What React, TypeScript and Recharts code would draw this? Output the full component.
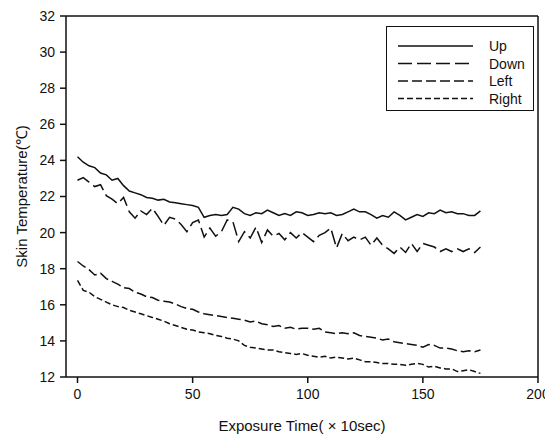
import { LineChart, Line, XAxis, YAxis, ReferenceLine } from "recharts";

const times = [
  0, 2.5, 5, 7.5, 10, 12.5, 15, 17.5, 20, 22.5, 25, 27.5, 30, 32.5, 35, 37.5, 40, 42.5, 45, 47.5,
  50, 52.5, 55, 57.5, 60, 62.5, 65, 67.5, 70, 72.5, 75, 77.5, 80, 82.5, 85, 87.5, 90, 92.5, 95, 97.5,
  100, 102.5, 105, 107.5, 110, 112.5, 115, 117.5, 120, 122.5, 125, 127.5, 130, 132.5, 135, 137.5,
  140, 142.5, 145, 147.5, 150, 152.5, 155, 157.5, 160, 162.5, 165, 167.5, 170, 172.5, 175,
];

const up = [
  24.2, 23.9, 23.7, 23.6, 23.3, 23.2, 22.9, 23.0, 22.6, 22.3, 22.2, 22.1, 21.95, 21.9, 21.8, 21.85,
  21.7, 21.65, 21.6, 21.55, 21.5, 21.4, 20.85, 20.95, 21.0, 20.95, 21.0, 21.4, 21.3, 21.05, 20.95,
  21.1, 21.05, 21.25, 21.1, 20.95, 21.05, 20.95, 21.15, 21.1, 20.95, 21.0, 21.1, 21.05, 21.1, 20.95,
  21.0, 21.15, 21.3, 21.15, 21.15, 21.0, 20.8, 20.95, 20.85, 21.15, 20.95, 20.7, 20.85, 21.0, 20.9,
  21.1, 21.05, 21.25, 21.1, 21.15, 21.05, 21.05, 20.95, 20.95, 21.2,
];

const down = [
  22.9, 23.05, 22.8, 22.55, 22.65, 22.05, 21.85, 21.6, 21.95, 21.15, 20.8, 21.2, 21.0, 21.35, 20.9,
  20.4, 20.85, 20.75, 20.45, 20.05, 20.55, 20.7, 19.75, 20.25, 19.8, 20.05, 20.7, 20.6, 19.5, 20.05,
  19.7, 20.3, 19.45, 20.15, 19.8, 19.95, 19.6, 20.0, 19.7, 20.0, 19.75, 19.5, 19.85, 20.0, 20.25,
  19.15, 19.95, 19.55, 19.75, 19.6, 19.75, 19.3, 19.7, 19.3, 19.1, 18.85, 19.2, 18.9, 19.4, 18.95,
  19.4, 19.3, 19.2, 18.95, 19.1, 18.95, 19.1, 18.95, 19.1, 18.9, 19.2,
];

const left = [
  18.4, 18.15, 17.95, 17.65, 17.75, 17.45, 17.3, 17.15, 16.95, 16.9, 16.7, 16.6, 16.45, 16.4, 16.25,
  16.2, 16.15, 16.05, 15.9, 15.8, 15.75, 15.6, 15.5, 15.45, 15.4, 15.35, 15.3, 15.25, 15.2, 15.15,
  15.05, 15.1, 14.95, 14.9, 14.8, 14.85, 14.7, 14.75, 14.65, 14.7, 14.7, 14.65, 14.7, 14.5, 14.45,
  14.4, 14.45, 14.4, 14.45, 14.3, 14.25, 14.2, 14.15, 14.05, 14.1, 13.95, 13.9, 13.85, 13.8, 13.75,
  13.65, 13.8, 13.75, 13.6, 13.6, 13.55, 13.45, 13.4, 13.45, 13.4, 13.5,
];

const right = [
  17.35, 16.8, 16.7, 16.45, 16.3, 16.15, 16.0, 15.9, 15.85, 15.7, 15.6, 15.5, 15.4, 15.3, 15.2, 15.1,
  14.95, 14.85, 14.75, 14.65, 14.6, 14.5, 14.45, 14.4, 14.3, 14.25, 14.15, 14.1, 14.0, 13.75, 13.65,
  13.6, 13.55, 13.5, 13.5, 13.4, 13.35, 13.3, 13.25, 13.3, 13.2, 13.15, 13.1, 13.15, 13.05, 13.1,
  13.05, 13.0, 13.05, 12.95, 12.85, 12.85, 12.8, 12.75, 12.75, 12.7, 12.7, 12.65, 12.7, 12.75, 12.7,
  12.55, 12.6, 12.5, 12.45, 12.45, 12.3, 12.35, 12.4, 12.3, 12.2,
];

const xTicks = [0, 50, 100, 150, 200];
const yTicks = [12, 14, 16, 18, 20, 22, 24, 26, 28, 30, 32];

const seriesNames = ["Up", "Down", "Left", "Right"];
const dashes: Record<string, string | undefined> = {
  Up: undefined,
  Down: "14 5",
  Left: "10 4",
  Right: "6 3",
};

const data = times.map((t, i) => ({
  t,
  Up: up[i],
  Down: down[i],
  Left: left[i],
  Right: right[i],
}));

const font = "'Liberation Sans', Arial, sans-serif";
const ink = "#111";

function LegendBox() {
  return (
    <div
      style={{
        position: "absolute",
        left: 378,
        top: 18,
        width: 146,
        height: 83,
        border: `1.5px solid ${ink}`,
        background: "#fff",
      }}
    >
      <svg width={146} height={83}>
        {seriesNames.map((name, i) => {
          const y = 19 + i * 17.5;
          return (
            <g key={name}>
              <line
                x1={11}
                x2={86}
                y1={y}
                y2={y}
                stroke={ink}
                strokeWidth={1.5}
                strokeDasharray={dashes[name]}
              />
              <text x={102} y={y + 5} fontSize={14} fill={ink} fontFamily={font}>
                {name}
              </text>
            </g>
          );
        })}
      </svg>
    </div>
  );
}

export default function App() {
  return (
    <div style={{ position: "relative", width: 545, height: 434 }}>
      <LineChart
        width={545}
        height={434}
        data={data}
        margin={{ top: 8, right: 15, left: 0, bottom: 35 }}
        style={{ fontFamily: font }}
      >
        <XAxis
          dataKey="t"
          type="number"
          domain={[-5, 200]}
          ticks={xTicks}
          allowDataOverflow
          stroke={ink}
          strokeWidth={1.5}
          tickSize={6}
          tickMargin={6}
          tick={{ fill: ink, fontSize: 14, fontFamily: font }}
          height={30}
          label={{
            value: "Exposure Time( \u00d7 10sec)",
            position: "insideBottom",
            offset: -24,
            fill: ink,
            fontSize: 15,
            fontFamily: font,
          }}
        />
        <YAxis
          type="number"
          domain={[12, 32]}
          ticks={yTicks}
          allowDataOverflow
          stroke={ink}
          strokeWidth={1.5}
          tickSize={6}
          tickMargin={5}
          width={58}
          tick={{ fill: ink, fontSize: 14, fontFamily: font }}
          label={{
            value: "Skin Temperature(\u2103)",
            angle: -90,
            position: "insideLeft",
            offset: 14,
            style: { textAnchor: "middle" },
            fill: ink,
            fontSize: 15,
            fontFamily: font,
          }}
        />
        <ReferenceLine y={32} stroke={ink} strokeWidth={1.5} />
        <ReferenceLine x={200} stroke={ink} strokeWidth={1.5} />
        {seriesNames.map((name) => (
          <Line
            key={name}
            dataKey={name}
            type="linear"
            stroke={ink}
            strokeWidth={1.5}
            strokeDasharray={dashes[name]}
            dot={false}
            isAnimationActive={false}
          />
        ))}
      </LineChart>
      <LegendBox />
    </div>
  );
}
